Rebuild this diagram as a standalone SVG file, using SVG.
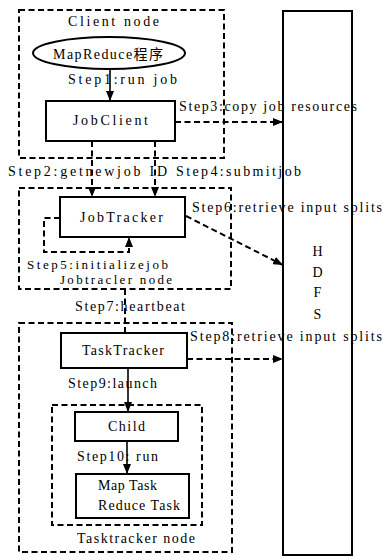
<svg xmlns="http://www.w3.org/2000/svg" width="383" height="556" viewBox="0 0 383 556">
  <style>
    .t { font-family: "Liberation Serif", "Noto Sans CJK SC", serif; font-size: 14px; fill: #000; }
    .small { font-size: 13px; }
    .box { fill: #fff; stroke: #000; stroke-width: 2; }
    .zone { fill: none; stroke: #000; stroke-width: 2; stroke-dasharray: 6 3.5; }
    .dash { fill: none; stroke: #000; stroke-width: 2; stroke-dasharray: 6 3.5; }
    .solid { fill: none; stroke: #000; stroke-width: 1.6; }
  </style>
  <defs>
    <marker id="arrow" markerUnits="userSpaceOnUse" markerWidth="10" markerHeight="8" refX="10" refY="4" orient="auto">
      <path d="M0,0 L10,4 L0,8 Z" fill="#000"/>
    </marker>
  </defs>
  <rect width="383" height="556" fill="#fff"/>

  <!-- HDFS column -->
  <g id="hdfs">
    <rect class="box" x="283" y="11" width="69" height="544"/>
    <text class="t" x="317.5" y="256" text-anchor="middle">H</text>
    <text class="t" x="317.5" y="277" text-anchor="middle">D</text>
    <text class="t" x="317.5" y="297" text-anchor="middle">F</text>
    <text class="t" x="317.5" y="319" text-anchor="middle">S</text>
  </g>

  <!-- Client node -->
  <g id="client-node">
    <rect class="zone" x="19" y="10" width="205" height="148"/>
    <text class="t" x="68" y="26" textLength="91" lengthAdjust="spacing">Client node</text>
  </g>
  <g id="mapreduce">
    <ellipse class="box" cx="109" cy="53" rx="76" ry="16"/>
    <text class="t" x="53" y="59" textLength="110" lengthAdjust="spacing">MapReduce程序</text>
  </g>
  <g id="jobclient">
    <rect class="box" x="46" y="101" width="129" height="40"/>
    <text class="t" x="73" y="125" textLength="75" lengthAdjust="spacing">JobClient</text>
  </g>

  <!-- Jobtracker node -->
  <g id="jobtracker-node">
    <rect class="zone" x="19" y="188" width="212" height="101"/>
    <text class="t small" x="60" y="284" textLength="112" lengthAdjust="spacing">Jobtracler node</text>
  </g>
  <g id="jobtracker">
    <rect class="box" x="60" y="197" width="125" height="40"/>
    <text class="t" x="80" y="222" textLength="83" lengthAdjust="spacing">JobTracker</text>
  </g>

  <!-- Tasktracker node -->
  <g id="tasktracker-node">
    <rect class="zone" x="19" y="323" width="213" height="229"/>
    <text class="t" x="77" y="543" textLength="118" lengthAdjust="spacing">Tasktracker node</text>
  </g>
  <g id="tasktracker">
    <rect class="box" x="61" y="333" width="126" height="35"/>
    <text class="t" x="82" y="355" textLength="82" lengthAdjust="spacing">TaskTracker</text>
  </g>
  <g id="child-zone">
    <rect class="zone" x="52" y="405" width="150" height="120"/>
  </g>
  <g id="child">
    <rect class="box" x="75" y="412" width="103" height="29"/>
    <text class="t" x="108" y="431" textLength="37" lengthAdjust="spacing">Child</text>
  </g>
  <g id="tasks">
    <rect class="box" x="76" y="474" width="113" height="44"/>
    <text class="t" x="98" y="490" textLength="59" lengthAdjust="spacing">Map Task</text>
    <text class="t" x="98" y="510" textLength="82" lengthAdjust="spacing">Reduce Task</text>
  </g>

  <!-- connectors -->
  <g id="connectors">
    <line class="solid" x1="110" y1="70" x2="110" y2="101" marker-end="url(#arrow)"/>
    <line class="dash" x1="175" y1="122" x2="283" y2="122" marker-end="url(#arrow)"/>
    <line class="dash" x1="92" y1="141" x2="92" y2="197" marker-end="url(#arrow)"/>
    <line class="dash" x1="155" y1="141" x2="155" y2="197" marker-end="url(#arrow)"/>
    <path class="dash" d="M60,218 H44 V252 H129 V237" marker-end="url(#arrow)"/>
    <line class="dash" x1="186" y1="216" x2="283" y2="265" marker-end="url(#arrow)"/>
    <line class="dash" x1="125" y1="289" x2="125" y2="333"/>
    <line class="dash" x1="187" y1="359" x2="283" y2="359" marker-end="url(#arrow)"/>
    <line class="solid" x1="128" y1="368" x2="128" y2="412" marker-end="url(#arrow)"/>
    <line class="solid" x1="127" y1="441" x2="127" y2="474" marker-end="url(#arrow)"/>
  </g>

  <!-- connector labels -->
  <g id="labels">
    <text class="t" x="68" y="84" textLength="109" lengthAdjust="spacing">Step1:run job</text>
    <text class="t" x="179" y="111" textLength="178" lengthAdjust="spacing">Step3:copy job resources</text>
    <text class="t" x="8" y="176" textLength="159" lengthAdjust="spacing">Step2:getnewjob ID</text>
    <text class="t" x="176" y="176" textLength="125" lengthAdjust="spacing">Step4:submitjob</text>
    <text class="t small" x="27" y="269" textLength="141" lengthAdjust="spacing">Step5:initializejob</text>
    <text class="t" x="192" y="212" textLength="190" lengthAdjust="spacing">Step6:retrieve input splits</text>
    <text class="t" x="75" y="311" textLength="110" lengthAdjust="spacing">Step7:heartbeat</text>
    <text class="t" x="190" y="341" textLength="192" lengthAdjust="spacing">Step8:retrieve input splits</text>
    <text class="t" x="68" y="388" textLength="89" lengthAdjust="spacing">Step9:launch</text>
    <text class="t" x="77" y="461" textLength="81" lengthAdjust="spacing">Step10: run</text>
  </g>
</svg>
